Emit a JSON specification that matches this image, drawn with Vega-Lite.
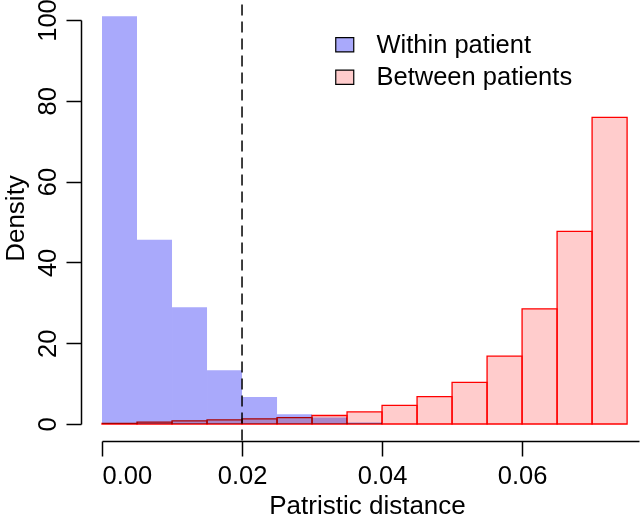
{
  "$schema": "https://vega.github.io/schema/vega-lite/v6.json",
  "autosize": "none",
  "width": 537,
  "height": 404,
  "padding": {"left": 102, "top": 20, "right": 1, "bottom": 99},
  "background": "white",
  "config": {
    "view": {"stroke": null},
    "font": "Liberation Sans",
    "axis": {
      "labelFont": "Liberation Sans",
      "titleFont": "Liberation Sans",
      "labelFontSize": 25.5,
      "titleFontSize": 26,
      "titleFontWeight": "normal",
      "labelColor": "black",
      "titleColor": "black",
      "domainColor": "black",
      "tickColor": "black",
      "domainWidth": 1.5,
      "tickWidth": 1.5,
      "tickSize": 15,
      "grid": false
    },
    "legend": {
      "labelFont": "Liberation Sans",
      "labelFontSize": 25.5,
      "labelColor": "black",
      "labelLimit": 0
    }
  },
  "datasets": {
    "hist": [
      {"group": "Within patient", "start": 0.000, "end": 0.005, "density": 100.9},
      {"group": "Within patient", "start": 0.005, "end": 0.010, "density": 45.6},
      {"group": "Within patient", "start": 0.010, "end": 0.015, "density": 28.9},
      {"group": "Within patient", "start": 0.015, "end": 0.020, "density": 13.3},
      {"group": "Within patient", "start": 0.020, "end": 0.025, "density": 6.7},
      {"group": "Within patient", "start": 0.025, "end": 0.030, "density": 2.4},
      {"group": "Within patient", "start": 0.030, "end": 0.035, "density": 1.6},
      {"group": "Within patient", "start": 0.035, "end": 0.040, "density": 0.4},
      {"group": "Between patients", "start": 0.000, "end": 0.005, "density": 0.15},
      {"group": "Between patients", "start": 0.005, "end": 0.010, "density": 0.45},
      {"group": "Between patients", "start": 0.010, "end": 0.015, "density": 0.75},
      {"group": "Between patients", "start": 0.015, "end": 0.020, "density": 1.0},
      {"group": "Between patients", "start": 0.020, "end": 0.025, "density": 1.25},
      {"group": "Between patients", "start": 0.025, "end": 0.030, "density": 1.6},
      {"group": "Between patients", "start": 0.030, "end": 0.035, "density": 2.1},
      {"group": "Between patients", "start": 0.035, "end": 0.040, "density": 3.0},
      {"group": "Between patients", "start": 0.040, "end": 0.045, "density": 4.6},
      {"group": "Between patients", "start": 0.045, "end": 0.050, "density": 6.8},
      {"group": "Between patients", "start": 0.050, "end": 0.055, "density": 10.3},
      {"group": "Between patients", "start": 0.055, "end": 0.060, "density": 16.8},
      {"group": "Between patients", "start": 0.060, "end": 0.065, "density": 28.5},
      {"group": "Between patients", "start": 0.065, "end": 0.070, "density": 47.7},
      {"group": "Between patients", "start": 0.070, "end": 0.075, "density": 75.9}
    ],
    "cutoff": [{"distance": 0.02}]
  },
  "layer": [
    {
      "data": {"name": "hist"},
      "transform": [{"filter": "datum.group === 'Within patient'"}],
      "mark": {"type": "rect", "strokeWidth": 0},
      "encoding": {
        "x": {
          "field": "start", "type": "quantitative",
          "scale": {"domain": [0, 0.0767], "nice": false, "zero": false},
          "axis": {"values": [0, 0.02, 0.04, 0.06], "format": ".2f", "offset": 17, "labelPadding": 7, "title": "Patristic distance", "titleX": 265, "titleY": 72, "titleBaseline": "alphabetic", "titleAlign": "center"}
        },
        "x2": {"field": "end"},
        "y": {
          "field": "density", "type": "quantitative",
          "scale": {"domain": [0, 100], "nice": false},
          "axis": {"values": [0, 20, 40, 60, 80, 100], "labelAngle": -90, "labelAlign": "center", "labelBaseline": "alphabetic", "offset": 21, "labelPadding": 11, "title": "Density", "titleX": -57.5, "titleY": 198, "titleBaseline": "alphabetic", "titleAlign": "center", "titleAngle": -90}
        },
        "y2": {"datum": 0},
        "fill": {
          "field": "group", "type": "nominal",
          "scale": {"domain": ["Within patient", "Between patients"], "range": ["#a9a9fb", "#ffcccc"]},
          "legend": {
            "title": null,
            "orient": "none",
            "legendX": 230,
            "legendY": 12,
            "symbolType": "M-1,-0.8H1V0.8H-1Z",
            "symbolSize": 324,
            "symbolStrokeColor": "black",
            "symbolStrokeWidth": 1.2,
            "rowPadding": 5.5,
            "labelOffset": 19,
            "labelLimit": 0,
            "encode": {"symbols": {"update": {"stroke": {"value": "black"}, "strokeWidth": {"value": 1.2}, "opacity": {"value": 1}}}}
          }
        }
      }
    },
    {
      "data": {"name": "hist"},
      "transform": [{"filter": "datum.group === 'Between patients'"}],
      "mark": {"type": "rect", "stroke": "red", "strokeWidth": 1.3, "blend": "multiply"},
      "encoding": {
        "x": {"field": "start", "type": "quantitative"},
        "x2": {"field": "end"},
        "y": {"field": "density", "type": "quantitative"},
        "y2": {"datum": 0},
        "fill": {"field": "group", "type": "nominal"}
      }
    },
    {
      "data": {"name": "cutoff"},
      "mark": {"type": "rule", "color": "black", "strokeWidth": 1.5, "strokeDash": [11, 6]},
      "encoding": {
        "x": {"field": "distance", "type": "quantitative"},
        "y": {"datum": -4.1},
        "y2": {"datum": 105}
      }
    }
  ]
}
